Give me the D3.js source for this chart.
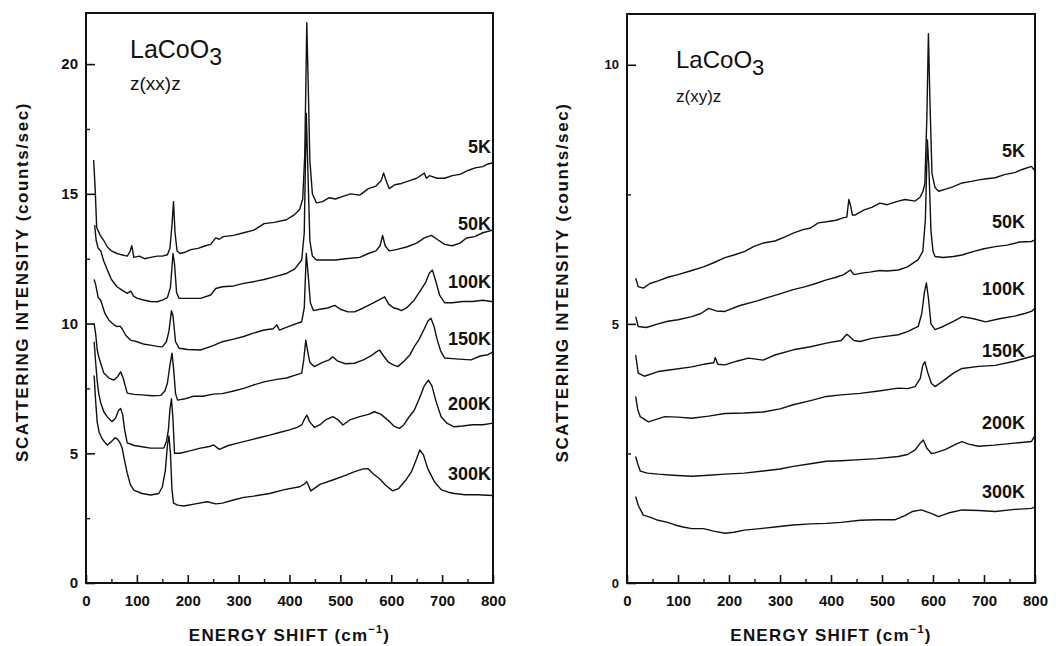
<!DOCTYPE html>
<html>
<head>
<meta charset="utf-8">
<script src="https://cdn.jsdelivr.net/npm/d3@7"></script>
<style>
  body { margin: 0; background: #fff; }
  text { font-family: "Liberation Sans", Arial, sans-serif; fill: #111; }
</style>
</head>
<body>
<div id="chart"></div>
<script>
/**
 * CONSTANTS AND GLOBALS
 * */
const width = 1056,
  height = 646;

// temperature labels, same for both panels
const temps = ["5K", "50K", "100K", "150K", "200K", "300K"];

// x ticks (cm-1)
const xMajor = [0, 100, 200, 300, 400, 500, 600, 700, 800];
const xMinor = [50, 150, 250, 350, 450, 550, 650, 750];

// left panel: z(xx)z, [shift, counts/sec]
const xx5K = [[15,16.3],[18,15.2],[21,13.7],[28,13.4],[35,13.2],[42,12.95],[50,12.8],[61,12.7],[70,12.65],[81,12.6],[86,12.75],[90,13.0],[94,12.55],[105,12.6],[115,12.5],[127,12.55],[140,12.6],[150,12.6],[160,12.65],[165,12.9],[169,13.8],[172,14.7],[175,13.5],[179,12.8],[185,12.7],[195,12.75],[206,12.85],[220,12.9],[235,13.0],[245,13.05],[255,13.3],[262,13.25],[270,13.35],[290,13.4],[310,13.5],[330,13.6],[350,13.85],[370,13.9],[394,14.0],[410,14.2],[420,14.4],[426,14.8],[430,16.5],[434,21.6],[437,19],[440,16.3],[445,15.0],[453,14.65],[465,14.7],[478,14.85],[490,14.8],[505,14.9],[520,15.0],[538,14.95],[555,15.2],[570,15.3],[580,15.5],[585,15.8],[590,15.5],[596,15.2],[607,15.35],[620,15.4],[635,15.5],[650,15.6],[665,15.8],[669,15.6],[675,15.7],[690,15.6],[705,15.6],[720,15.7],[735,15.75],[751,15.9],[765,16.0],[780,16.05],[790,16.15],[800,16.2]];
const xx50K = [[17,13.8],[20,13.2],[24,12.9],[29,12.8],[35,12.4],[42,12.06],[50,11.7],[61,11.42],[70,11.3],[81,11.16],[88,11.25],[94,11.05],[101,10.97],[115,10.9],[127,10.85],[140,10.84],[150,10.9],[160,11.0],[166,11.4],[171,12.7],[174,12.3],[178,11.2],[183,10.97],[200,10.97],[225,10.97],[245,11.1],[255,11.35],[268,11.42],[290,11.45],[310,11.55],[329,11.61],[350,11.7],[370,11.8],[394,11.93],[410,12.1],[424,12.45],[429,13.5],[433,18.1],[436,16],[440,13.2],[445,12.6],[453,12.45],[470,12.45],[490,12.45],[510,12.5],[538,12.55],[555,12.7],[570,12.8],[578,13.0],[583,13.4],[588,13.0],[596,12.8],[610,12.85],[630,12.95],[650,13.1],[665,13.3],[679,13.4],[690,13.25],[705,13.05],[720,13.0],[735,13.1],[748,13.3],[764,13.35],[780,13.5],[800,13.6]];
const xx100K = [[16,11.7],[19,11.5],[24,11.0],[29,10.9],[37,10.4],[45,10.13],[55,9.95],[61,9.88],[67,9.9],[71,9.8],[78,9.55],[88,9.36],[100,9.3],[115,9.2],[127,9.17],[140,9.12],[150,9.1],[158,9.3],[163,9.7],[168,10.5],[171,10.3],[176,9.3],[183,9.05],[200,9.0],[225,8.98],[250,9.15],[268,9.3],[290,9.4],[310,9.5],[329,9.63],[350,9.75],[368,9.8],[375,9.95],[380,9.75],[400,9.9],[424,10.07],[429,10.6],[433,12.7],[437,11.8],[441,10.8],[447,10.5],[460,10.55],[475,10.6],[489,10.7],[500,10.55],[515,10.45],[528,10.45],[545,10.6],[560,10.75],[575,10.9],[587,11.03],[595,10.75],[605,10.6],[615,10.55],[620,10.5],[630,10.6],[645,10.9],[658,11.29],[668,11.6],[675,11.95],[681,12.06],[688,11.6],[695,11.1],[705,10.8],[720,10.8],[740,10.85],[760,10.85],[780,10.9],[800,10.84]];
const xx150K = [[16,10.0],[19,9.6],[22,9.0],[25,8.72],[30,8.4],[35,8.09],[45,7.9],[55,7.82],[62,7.95],[68,8.14],[73,7.9],[81,7.32],[94,7.27],[110,7.25],[130,7.22],[147,7.23],[155,7.4],[160,7.7],[165,8.4],[169,8.86],[172,8.3],[176,7.3],[180,7.05],[195,7.1],[212,7.2],[230,7.2],[250,7.28],[268,7.3],[290,7.4],[310,7.5],[329,7.63],[350,7.75],[375,7.85],[394,7.9],[410,8.0],[424,8.09],[428,8.6],[432,9.36],[436,8.9],[440,8.5],[449,8.34],[465,8.5],[478,8.6],[485,8.72],[495,8.55],[510,8.45],[528,8.47],[545,8.6],[560,8.75],[570,8.9],[577,8.98],[585,8.75],[595,8.5],[605,8.4],[613,8.34],[625,8.55],[637,8.8],[645,9.1],[655,9.4],[665,9.8],[672,10.1],[678,10.2],[684,9.9],[690,9.4],[697,8.95],[705,8.67],[720,8.65],[740,8.62],[757,8.6],[775,8.75],[790,8.8],[800,8.91]];
const xx200K = [[16,9.3],[19,8.5],[22,7.8],[25,7.3],[29,6.94],[35,6.6],[42,6.4],[51,6.22],[58,6.35],[64,6.65],[68,6.73],[72,6.5],[76,5.9],[81,5.4],[95,5.3],[110,5.25],[127,5.2],[140,5.2],[153,5.2],[158,5.45],[162,5.9],[165,6.7],[168,7.1],[171,6.3],[174,5.0],[185,5.0],[206,5.1],[225,5.2],[240,5.25],[251,5.32],[262,5.15],[280,5.3],[300,5.4],[320,5.5],[340,5.6],[361,5.7],[380,5.8],[400,5.9],[415,6.0],[424,6.09],[429,6.3],[434,6.47],[440,6.2],[449,6.0],[460,6.1],[472,6.3],[485,6.41],[495,6.3],[505,6.09],[520,6.3],[538,6.41],[555,6.5],[567,6.6],[580,6.5],[595,6.25],[605,6.05],[616,5.96],[625,6.1],[635,6.4],[645,6.65],[655,7.1],[665,7.6],[673,7.82],[680,7.6],[688,7.0],[698,6.41],[710,6.15],[724,6.02],[740,6.05],[760,6.1],[780,6.1],[800,6.16]];
const xx300K = [[16,8.0],[19,7.0],[22,6.2],[26,5.8],[32,5.55],[38,5.4],[42,5.32],[50,5.45],[57,5.6],[62,5.55],[67,5.4],[71,5.2],[76,4.7],[81,4.24],[87,3.8],[94,3.58],[110,3.45],[127,3.39],[143,3.45],[150,3.7],[156,4.35],[160,5.3],[163,5.67],[166,5.0],[169,3.6],[172,3.08],[180,3.0],[192,2.97],[215,3.05],[238,3.13],[255,3.05],[268,3.08],[290,3.2],[310,3.3],[330,3.35],[361,3.45],[390,3.6],[420,3.71],[428,3.8],[434,3.9],[442,3.55],[460,3.8],[485,3.97],[510,4.15],[528,4.29],[545,4.4],[554,4.41],[565,4.2],[578,4.0],[590,3.75],[603,3.55],[615,3.65],[628,3.95],[640,4.3],[650,4.8],[656,5.13],[663,4.95],[672,4.4],[685,3.9],[698,3.6],[712,3.5],[724,3.45],[745,3.4],[770,3.4],[800,3.37]];

// right panel: z(xy)z
const xy5K = [[17,5.88],[22,5.72],[32,5.69],[45,5.78],[61,5.83],[80,5.9],[100,5.95],[127,6.03],[150,6.1],[170,6.18],[192,6.28],[210,6.33],[231,6.4],[250,6.5],[267,6.56],[290,6.6],[310,6.68],[326,6.75],[345,6.82],[360,6.85],[375,6.95],[391,6.97],[410,7.0],[425,7.05],[431,7.06],[435,7.4],[438,7.3],[442,7.1],[447,7.1],[465,7.2],[480,7.25],[496,7.33],[510,7.3],[532,7.37],[545,7.4],[565,7.37],[575,7.45],[580,7.55],[584,7.7],[588,9.0],[591,10.6],[594,9.3],[598,7.9],[604,7.63],[611,7.56],[625,7.6],[640,7.65],[657,7.72],[675,7.75],[690,7.78],[705,7.8],[722,7.82],[740,7.88],[760,7.92],[775,7.98],[793,8.04],[800,7.95]];
const xy50K = [[17,5.14],[22,4.95],[38,4.93],[61,5.0],[80,5.05],[100,5.08],[127,5.14],[145,5.2],[160,5.3],[175,5.25],[192,5.24],[220,5.35],[257,5.45],[280,5.52],[300,5.58],[326,5.66],[350,5.72],[370,5.78],[391,5.85],[410,5.9],[425,5.95],[438,6.04],[445,5.95],[460,5.98],[476,6.0],[495,6.03],[510,6.02],[532,6.04],[550,6.1],[571,6.24],[580,6.4],[585,7.0],[589,8.55],[592,8.0],[596,6.8],[600,6.4],[604,6.3],[620,6.28],[640,6.3],[657,6.33],[680,6.4],[700,6.45],[722,6.49],[745,6.52],[770,6.58],[793,6.59],[800,6.62]];
const xy100K = [[17,4.4],[22,4.05],[34,3.99],[61,4.08],[90,4.12],[127,4.17],[150,4.22],[170,4.25],[173,4.35],[178,4.22],[192,4.21],[215,4.28],[238,4.34],[267,4.3],[290,4.4],[326,4.5],[360,4.56],[391,4.63],[420,4.68],[431,4.8],[436,4.76],[445,4.68],[457,4.66],[480,4.72],[500,4.75],[532,4.79],[550,4.85],[571,4.95],[578,5.2],[583,5.6],[587,5.79],[591,5.5],[596,5.0],[604,4.89],[620,4.95],[640,5.05],[657,5.14],[680,5.1],[703,5.04],[730,5.1],[760,5.15],[780,5.2],[793,5.24],[800,5.3]];
const xy150K = [[17,3.6],[21,3.35],[26,3.21],[42,3.11],[74,3.21],[100,3.2],[127,3.18],[160,3.22],[192,3.27],[230,3.28],[267,3.3],[300,3.36],[326,3.44],[360,3.52],[391,3.6],[420,3.63],[457,3.66],[490,3.7],[532,3.76],[550,3.75],[565,3.79],[575,3.95],[580,4.2],[584,4.27],[590,4.05],[597,3.85],[604,3.79],[620,3.9],[640,4.05],[657,4.14],[690,4.18],[722,4.2],[760,4.28],[793,4.37],[800,4.4]];
const xy200K = [[17,2.44],[21,2.3],[26,2.16],[40,2.12],[61,2.1],[90,2.08],[127,2.06],[160,2.08],[192,2.1],[230,2.12],[267,2.16],[300,2.2],[326,2.25],[360,2.3],[391,2.35],[420,2.36],[457,2.38],[490,2.4],[532,2.44],[550,2.48],[565,2.57],[575,2.7],[581,2.76],[588,2.6],[597,2.5],[604,2.51],[625,2.58],[645,2.68],[657,2.73],[670,2.68],[689,2.64],[720,2.66],[760,2.7],[793,2.73],[800,2.85]];
const xy300K = [[17,1.67],[22,1.5],[32,1.31],[45,1.27],[61,1.21],[80,1.17],[94,1.12],[110,1.08],[127,1.05],[150,1.05],[170,1.0],[192,0.96],[210,0.98],[230,1.02],[261,1.05],[290,1.08],[326,1.12],[360,1.14],[391,1.15],[420,1.17],[457,1.21],[490,1.22],[525,1.22],[545,1.3],[560,1.38],[577,1.41],[595,1.35],[611,1.28],[630,1.35],[657,1.41],[690,1.4],[722,1.38],[760,1.42],[793,1.44],[800,1.47]];

// where each temperature label sits (counts/sec, at the right end)
const xxLabelY = [16.57, 13.6, 11.37, 9.17, 6.67, 3.97];
const xyLabelY = [8.22, 6.85, 5.56, 4.36, 2.97, 1.64];

// panel setup built from the arrays above
const panels = [
  {
    series: [xx5K, xx50K, xx100K, xx150K, xx200K, xx300K],
    labelY: xxLabelY,
    geometry: "z(xx)z",
    yMax: 21.97, yMajor: [0, 5, 10, 15, 20], yMinor: [2.5, 7.5, 12.5, 17.5],
    left: 86, right: 493, top: 13, bottom: 583,
    ylabX: 22, labRight: 491, titleX: 130, titleY: 58, geoY: 90,
    titleSize: 25, geoSize: 19, yTickSize: 15
  },
  {
    series: [xy5K, xy50K, xy100K, xy150K, xy200K, xy300K],
    labelY: xyLabelY,
    geometry: "z(xy)z",
    yMax: 10.98, yMajor: [0, 5, 10], yMinor: [2.5, 7.5],
    left: 627, right: 1035, top: 14, bottom: 583,
    ylabX: 562, labRight: 1025, titleX: 676, titleY: 68, geoY: 102,
    titleSize: 24, geoSize: 17, yTickSize: 13
  }
];

let svg;

init();

function init() {
  svg = d3.select("#chart")
    .append("svg")
    .attr("width", width)
    .attr("height", height);

  panels.forEach(drawPanel);
}

function drawPanel(p) {
  const x = d3.scaleLinear().domain([0, 800]).range([p.left, p.right]);
  const y = d3.scaleLinear().domain([0, p.yMax]).range([p.bottom, p.top]);

  const g = svg.append("g");

  // frame
  g.append("rect")
    .attr("x", p.left).attr("y", p.top)
    .attr("width", p.right - p.left).attr("height", p.bottom - p.top)
    .attr("fill", "none").attr("stroke", "#111").attr("stroke-width", 2);

  // x axis - ticks point inward
  const xAx = g.append("g")
    .attr("transform", `translate(0,${p.bottom})`)
    .call(d3.axisBottom(x).tickValues(xMajor).tickSizeInner(-8).tickSizeOuter(0).tickPadding(12));
  xAx.select(".domain").remove();
  xAx.selectAll("line").attr("stroke", "#111").attr("stroke-width", 1.6);
  xAx.selectAll("text")
    .attr("font-size", 15).attr("font-weight", "bold").attr("fill", "#111");

  const xMin = g.append("g")
    .attr("transform", `translate(0,${p.bottom})`)
    .call(d3.axisBottom(x).tickValues(xMinor).tickSize(-4).tickFormat(""));
  xMin.select(".domain").remove();
  xMin.selectAll("line").attr("stroke", "#111").attr("stroke-width", 1.4);

  // y axis
  const yAx = g.append("g")
    .attr("transform", `translate(${p.left},0)`)
    .call(d3.axisLeft(y).tickValues(p.yMajor).tickSizeInner(-9).tickSizeOuter(0).tickPadding(8));
  yAx.select(".domain").remove();
  yAx.selectAll("line").attr("stroke", "#111").attr("stroke-width", 1.6);
  yAx.selectAll("text")
    .attr("font-size", p.yTickSize).attr("font-weight", "bold").attr("fill", "#111");

  const yMin = g.append("g")
    .attr("transform", `translate(${p.left},0)`)
    .call(d3.axisLeft(y).tickValues(p.yMinor).tickSize(-4).tickFormat(""));
  yMin.select(".domain").remove();
  yMin.selectAll("line").attr("stroke", "#111").attr("stroke-width", 1.4);

  // spectra
  const line = d3.line().x(d => x(d[0])).y(d => y(d[1]));
  g.selectAll(".spectrum")
    .data(p.series)
    .join("path")
    .attr("class", "spectrum")
    .attr("d", line)
    .attr("fill", "none")
    .attr("stroke", "#111")
    .attr("stroke-width", 1.4)
    .attr("stroke-linejoin", "round");

  // temperature labels
  g.selectAll(".temp")
    .data(temps)
    .join("text")
    .attr("class", "temp")
    .attr("x", p.labRight)
    .attr("y", (d, i) => y(p.labelY[i]))
    .attr("text-anchor", "end")
    .attr("font-size", 18)
    .attr("font-weight", "bold")
    .text(d => d);

  // sample name + scattering geometry
  const t = g.append("text")
    .attr("x", p.titleX).attr("y", p.titleY)
    .attr("font-size", p.titleSize);
  t.append("tspan").text("LaCoO");
  t.append("tspan").attr("dy", 7).attr("font-size", p.titleSize - 2).text("3");

  g.append("text")
    .attr("x", p.titleX).attr("y", p.geoY)
    .attr("font-size", p.geoSize)
    .text(p.geometry);

  // axis titles
  const xt = g.append("text")
    .attr("x", (p.left + p.right) / 2)
    .attr("y", 641)
    .attr("text-anchor", "middle")
    .attr("font-size", 17)
    .attr("font-weight", "bold")
    .attr("letter-spacing", 1.2);
  xt.append("tspan").text("ENERGY SHIFT (cm");
  xt.append("tspan").attr("dy", -8).attr("font-size", 11).text("\u22121");
  xt.append("tspan").attr("dy", 8).text(")");

  g.append("text")
    .attr("transform", `translate(${p.ylabX},${(p.top + p.bottom) / 2 - 16}) rotate(-90)`)
    .attr("dy", "0.35em")
    .attr("text-anchor", "middle")
    .attr("font-size", 17)
    .attr("font-weight", "bold")
    .attr("letter-spacing", 1.6)
    .text("SCATTERING INTENSITY (counts/sec)");
}
</script>
</body>
</html>
